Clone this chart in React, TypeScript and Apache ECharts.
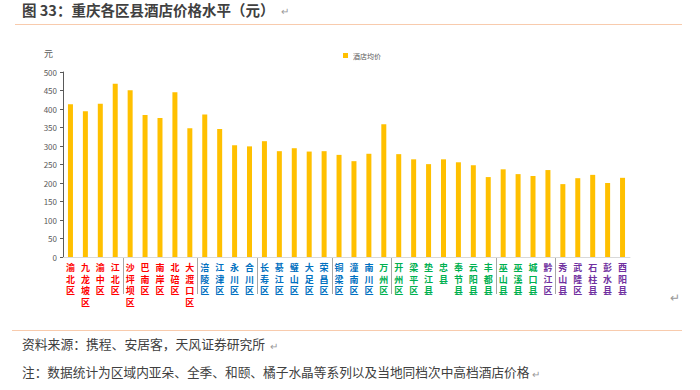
import React, { useEffect, useRef } from "react";
import * as echarts from "echarts";

const categories = [
  "渝北区", "九龙坡区", "渝中区", "江北区", "沙坪坝区", "巴南区", "南岸区", "北碚区", "大渡口区",
  "涪陵区", "江津区", "永川区", "合川区", "长寿区", "綦江区", "璧山区", "大足区", "荣昌区", "铜梁区", "潼南区", "南川区",
  "万州区", "开州区", "梁平区", "垫江县", "忠县", "奉节县", "云阳县", "丰都县", "巫山县", "巫溪县", "城口县",
  "黔江区", "秀山县", "武隆区", "石柱县", "彭水县", "酉阳县",
];
const prices = [
  413, 394, 414, 468, 451, 384, 376, 445, 348,
  385, 346, 302, 299, 313, 286, 294, 285, 286, 276, 259, 279,
  359, 278, 264, 251, 264, 256, 248, 216, 237, 224, 219,
  235, 197, 213, 222, 200, 214,
];
// label colour group for each category
const labelGroups = [
  0, 0, 0, 0, 0, 0, 0, 0, 0,
  1, 1, 1, 1, 1, 1, 1, 1, 1, 1, 1, 1,
  2, 2, 2, 2, 2, 2, 2, 2, 2, 2, 2,
  3, 3, 3, 3, 3, 3,
];
const groupColors = ["#FF0000", "#0070C0", "#00B050", "#7030A0"];
// a separator is drawn before each of these category indices
const separatorIndices = [4, 9, 13, 18, 22, 29, 33];
const yTicks = { min: 0, max: 500, interval: 50 };

export default function App() {
  const ref = useRef<HTMLDivElement>(null);
  useEffect(() => {
    if (!ref.current) return;
    const chart = echarts.init(ref.current, undefined, { renderer: "svg" });
    const font = "'Noto Sans CJK SC', 'Noto Sans', sans-serif";
    const staticGraphics: any[] = [
      {
        type: "text",
        left: 22,
        top: 2,
        style: {
          text: "图 33：重庆各区县酒店价格水平（元）",
          fontSize: 14.5,
          fontWeight: "bold",
          fill: "#404040",
          fontFamily: font,
        },
      },
      {
        type: "text",
        left: 281,
        top: 5,
        style: { text: "↵", fontSize: 10, fill: "#999999", fontFamily: font },
      },
      {
        type: "line",
        shape: { x1: 15, y1: 24.5, x2: 682, y2: 24.5 },
        style: { stroke: "#F8CBAD", lineWidth: 1.2 },
      },
      {
        type: "text",
        left: 44,
        top: 49,
        style: { text: "元", fontSize: 9, fill: "#595959", fontFamily: font },
      },
      {
        type: "text",
        left: 670,
        top: 290,
        style: { text: "↵", fontSize: 12, fill: "#999999", fontFamily: font },
      },
      {
        type: "line",
        shape: { x1: 12, y1: 330.5, x2: 682, y2: 330.5 },
        style: { stroke: "#F8CBAD", lineWidth: 1.2 },
      },
      {
        type: "text",
        left: 22,
        top: 337,
        style: {
          text: "资料来源：携程、安居客，天风证券研究所",
          fontSize: 12.8,
          fill: "#404040",
          fontFamily: font,
        },
      },
      {
        type: "text",
        left: 270,
        top: 340,
        style: { text: "↵", fontSize: 10, fill: "#999999", fontFamily: font },
      },
      {
        type: "text",
        left: 22,
        top: 365,
        style: {
          text: "注：数据统计为区域内亚朵、全季、和颐、橘子水晶等系列以及当地同档次中高档酒店价格",
          fontSize: 12.7,
          fill: "#404040",
          fontFamily: font,
        },
      },
      {
        type: "text",
        left: 532,
        top: 368,
        style: { text: "↵", fontSize: 10, fill: "#999999", fontFamily: font },
      },
    ];
    chart.setOption({
      animation: false,
      textStyle: { fontFamily: font },
      grid: { left: 63, right: 70, top: 72, bottom: 133 },
      legend: {
        data: ["酒店均价"],
        left: 338,
        top: 47,
        itemWidth: 5,
        itemHeight: 5,
        itemGap: 4,
        icon: "rect",
        textStyle: { fontSize: 7, color: "#595959", fontFamily: font },
      },
      xAxis: {
        type: "category",
        data: categories,
        boundaryGap: true,
        axisLine: { lineStyle: { color: "#d9d9d9", width: 1 } },
        axisTick: { show: false },
        axisLabel: {
          interval: 0,
          margin: 5,
          fontSize: 9,
          fontWeight: "bold",
          lineHeight: 11.5,
          fontFamily: font,
          color: (_v: string, i: number) => groupColors[labelGroups[i]],
          formatter: (v: string) => v.split("").join("\n"),
        },
      },
      yAxis: {
        type: "value",
        min: yTicks.min,
        max: yTicks.max,
        interval: yTicks.interval,
        axisLine: { show: true, lineStyle: { color: "#595959", width: 1 } },
        axisTick: { show: true, length: 3, lineStyle: { color: "#595959" } },
        splitLine: { show: false },
        axisLabel: { fontSize: 8, color: "#595959", margin: 6, fontFamily: font },
      },
      series: [
        {
          name: "酒店均价",
          type: "bar",
          data: prices,
          barWidth: 5,
          itemStyle: { color: "#FFC000" },
        },
      ],
      graphic: staticGraphics,
    });
    // group separators, placed through the axis scale at category boundaries
    const y0 = chart.convertToPixel({ yAxisIndex: 0 }, 0) as number;
    const seps = separatorIndices.map((idx) => {
      const a = chart.convertToPixel({ xAxisIndex: 0 }, idx - 1) as number;
      const b = chart.convertToPixel({ xAxisIndex: 0 }, idx) as number;
      const x = Math.round((a + b) / 2) + 0.5;
      return {
        type: "line",
        shape: { x1: x, y1: y0, x2: x, y2: y0 + 37 },
        style: { stroke: "#a6a6a6", lineWidth: 1 },
      };
    });
    chart.setOption({ graphic: [...staticGraphics, ...seps] });
    return () => chart.dispose();
  }, []);
  return (
    <div
      ref={ref}
      style={{ position: "fixed", left: 0, top: 0, width: 700, height: 390, background: "#fff" }}
    />
  );
}
